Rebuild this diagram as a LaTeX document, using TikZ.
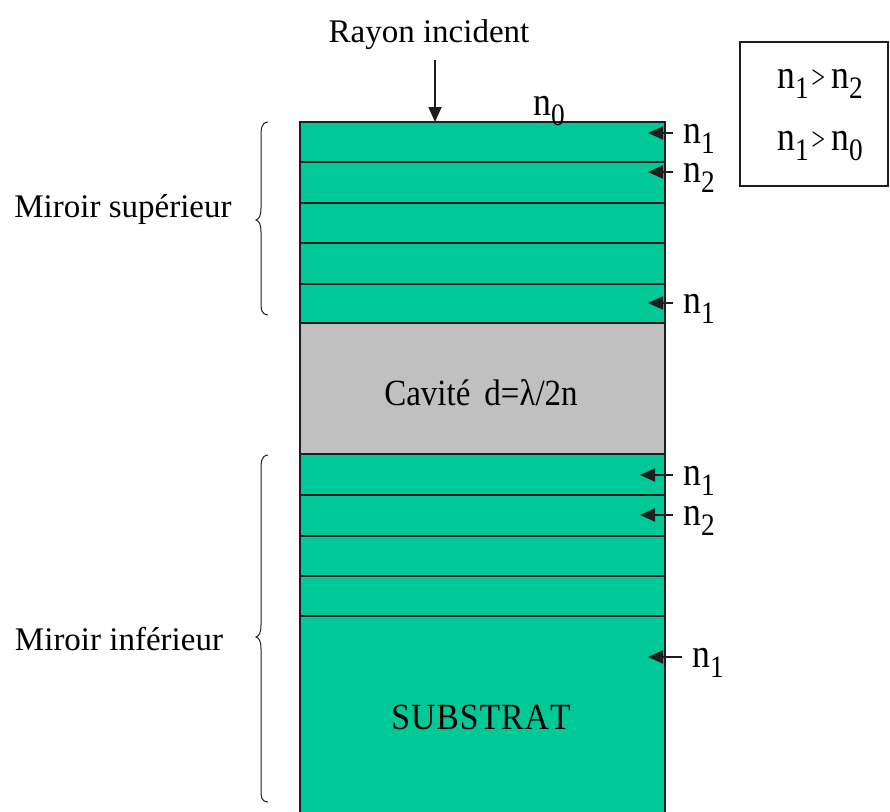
\documentclass[tikz,border=0pt]{standalone}
\usepackage{fontspec}
\setmainfont{Liberation Serif}
\usetikzlibrary{arrows.meta}
\definecolor{layergreen}{RGB}{0,200,150}
\definecolor{cavgray}{RGB}{192,192,192}
\definecolor{edge}{RGB}{30,30,30}
\newcommand\nsub[1]{n\raisebox{-9pt}{\fontsize{26}{26}\selectfont #1}}
\newcommand\nlab[1]{\scalebox{1.05}[1.2]{\fontsize{34}{40}\selectfont\nsub{#1}}}
\newcommand\gtsym{\scalebox{0.8}[1.1]{\fontsize{30}{30}\selectfont >}}
\begin{document}
\begin{tikzpicture}[x=1pt,y=-1pt,
  font=\fontsize{33}{40}\selectfont,
  layer/.style={draw=edge, line width=1.5pt, fill=layergreen, minimum width=365pt, inner sep=0pt, outer sep=0pt, anchor=north west},
  cav/.style={layer, fill=cavgray},
  lbl/.style={inner sep=0pt, anchor=base west},
  arr/.style={draw=edge, line width=1.8pt, -{Triangle[length=15pt,width=13pt]}},
  brace/.style={draw=edge, line width=1pt}]
\useasboundingbox (0,0) rectangle (890,811);
\clip (0,0) rectangle (890,811);
% stack
\node[layer, minimum height=40pt] (L1) at (300,122) {};
\node[layer, minimum height=41pt] (L2) at (300,162) {};
\node[layer, minimum height=40pt] (L3) at (300,203) {};
\node[layer, minimum height=41pt] (L4) at (300,243) {};
\node[layer, minimum height=39pt] (L5) at (300,284) {};
\node[cav, minimum height=131pt] (Cav) at (300,323) {};
\node[layer, minimum height=41pt] (L6) at (300,454) {};
\node[layer, minimum height=41pt] (L7) at (300,495) {};
\node[layer, minimum height=40pt] (L8) at (300,536) {};
\node[layer, minimum height=40pt] (L9) at (300,576) {};
\node[layer, minimum height=205pt] (Sub) at (300,616) {};
\node (cavtxt) at (481,393) {\scalebox{1}[1.12]{Cavité\hspace{14pt}d=λ/2n}};
\node (subtxt) at (481,717) {\scalebox{1.02}[1.12]{S\kern1ptU\kern1ptB\kern1ptS\kern1ptT\kern1ptR\kern1ptA\kern1ptT}};
% incident ray
\node[inner sep=0pt, anchor=base] (ray) at (429,42) {Rayon incident};
\coordinate (rayTop) at (435,60);
\coordinate (rayHit) at (435,122);
\draw[arr] (rayTop) -- (rayHit);
\node[lbl] (n0) at (533,115) {\nlab{0}};
% side labels
\node[lbl] (a1) at (683,143) {\nlab{1}};
\node[lbl] (a2) at (683,182) {\nlab{2}};
\node[lbl] (a3) at (683,313) {\nlab{1}};
\node[lbl] (b1) at (683,485) {\nlab{1}};
\node[lbl] (b2) at (683,525) {\nlab{2}};
\node[lbl] (c1) at (692,667) {\nlab{1}};
\coordinate (ta1) at (648,133);
\coordinate (ta2) at (648,172);
\coordinate (ta3) at (648,303);
\coordinate (tb1) at (640,475);
\coordinate (tb2) at (640,515);
\coordinate (tc1) at (648,657);
\draw[arr, shorten <=10pt] (a1.west |- ta1) -- (ta1);
\draw[arr, shorten <=10pt] (a2.west |- ta2) -- (ta2);
\draw[arr, shorten <=10pt] (a3.west |- ta3) -- (ta3);
\draw[arr, shorten <=10pt] (b1.west |- tb1) -- (tb1);
\draw[arr, shorten <=10pt] (b2.west |- tb2) -- (tb2);
\draw[arr, shorten <=10pt] (c1.west |- tc1) -- (tc1);
% legend box
\draw[draw=edge, line width=1.5pt] (740,42) rectangle (888,186);
\node[lbl] (r1) at (777,88) {\nlab{1}\hspace{3pt}\gtsym\hspace{6pt}\nlab{2}};
\node[lbl] (r2) at (777,150) {\nlab{1}\hspace{3pt}\gtsym\hspace{6pt}\nlab{0}};
% braces
\draw[brace] (268,122) .. controls (261,123) and (261,128) .. (261,140) -- (261,208)
  .. controls (261,216) and (259,219) .. (256,220)
  .. controls (259,221) and (261,224) .. (261,232) -- (261,300)
  .. controls (261,310) and (261,314) .. (268,315);
\draw[brace] (268,455) .. controls (261,456) and (261,461) .. (261,473) -- (261,625)
  .. controls (261,633) and (259,636) .. (256,637)
  .. controls (259,638) and (261,641) .. (261,649) -- (261,788)
  .. controls (261,798) and (261,801) .. (268,802);
\node[inner sep=0pt, anchor=base] (msup) at (123,217) {Miroir supérieur};
\node[inner sep=0pt, anchor=base] (minf) at (119,650) {Miroir inférieur};
\end{tikzpicture}
\end{document}
